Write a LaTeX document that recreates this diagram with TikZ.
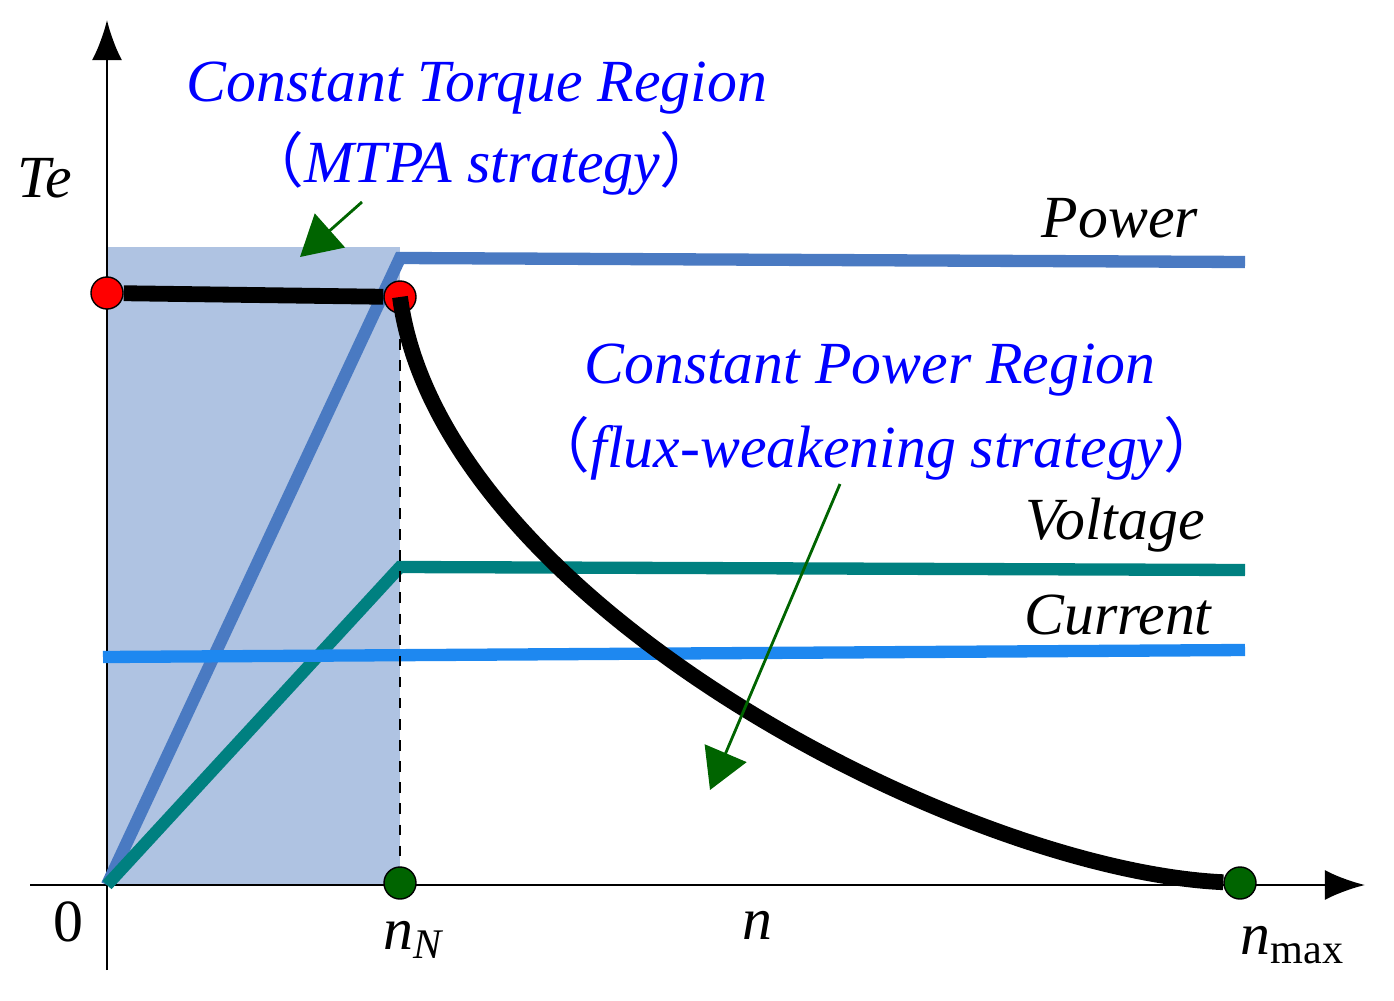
\documentclass[tikz,border=0pt]{standalone}
\usepackage{fontspec}
\setmainfont{Liberation Serif}
\newfontfamily\cjk{Noto Sans CJK SC}
\usetikzlibrary{arrows.meta}
\definecolor{regionfill}{HTML}{AFC3E2}
\definecolor{powc}{HTML}{4A7AC2}
\definecolor{volc}{HTML}{008080}
\definecolor{curc}{HTML}{1E88F0}
\definecolor{dgreen}{HTML}{006400}
\tikzset{
  lbl/.style={font={\fontsize{17pt}{21}\selectfont\itshape}},
  reg/.style={font={\fontsize{17pt}{21}\selectfont\itshape}, text=blue},
  dot/.style={circle, draw=black, inner sep=0pt, minimum size=0.32cm},
  pointer/.style={dgreen, thick, -{Triangle[length=4mm, width=4.5mm]}}
}
\begin{document}
\begin{tikzpicture}[x=0.01cm, y=-0.01cm, >={Latex[length=4mm]}]
    \useasboundingbox (0,0) rectangle (1394,1000);
    \fill [regionfill] (107,247) rectangle (400,885);
    \coordinate (o) at (107,885);
    \coordinate (xe) at (1365,885);
    \coordinate (ye) at (107,20);
    \draw [thick, ->] (30,885) -- (xe);
    \draw [thick, ->] (107,970) -- (ye);
    % curves
    \draw [powc, line width=3.5pt] (o) -- (400,258) -- (1245,262);
    \draw [volc, line width=3.5pt] (o) -- (400,567) -- (1245,570);
    \draw [curc, line width=3.5pt] (103,657) -- (1245,650);
    \draw [dashed] (400,297) -- (400,885);
    \node [dot, fill=red] (a) at (107,293) {};
    \node [dot, fill=red] (b) at (400,297) {};
    \node [dot, fill=dgreen] (nN) at (400,883) {};
    \node [dot, fill=dgreen] (nm) at (1240,883) {};
    \draw [line width=4.5pt] (a) -- (b);
    \draw [line width=4.5pt] (b.center) .. controls (440,600) and (960,870) .. (nm);
    % labels
    \node [lbl] at (45,178) {Te};
    \node [lbl] at (1120,218) {Power};
    \node [lbl] at (1115,525) {Voltage};
    \node [lbl] at (1118,615) {Current};
    \node [font=\fontsize{17pt}{21}\selectfont] at (68,922) {0};
    \node [lbl] at (413,940) {n\raisebox{-0.35ex}{\fontsize{12pt}{14}\selectfont N}};
    \node [lbl] at (757,925) {n};
    \node [lbl] at (1292,945) {n\raisebox{-0.35ex}{\fontsize{12pt}{14}\selectfont\upshape max}};
    \node [reg] (ct) at (477,88) {Constant Torque Region};
    \node [reg] (ct2) at (482,163) {{\cjk （}MTPA strategy{\cjk ）}};
    \node [reg] (cp) at (870,370) {Constant Power Region};
    \node [reg] (cp2) at (877,448) {{\cjk （}flux-weakening strategy{\cjk ）}};
    \coordinate (t1) at (362,202);
    \coordinate (t2) at (840,484);
    \draw [pointer] (t1) -- (300,257);
    \draw [pointer] (t2) -- (710,790);
\end{tikzpicture}
\end{document}
